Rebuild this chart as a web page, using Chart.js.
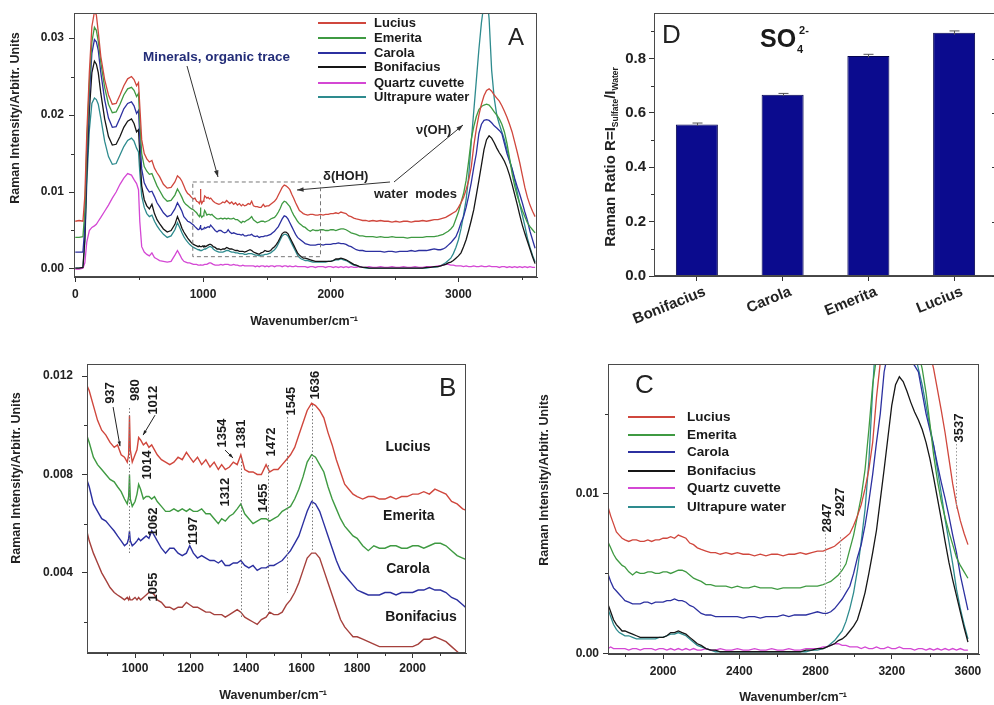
<!DOCTYPE html>
<html><head><meta charset="utf-8">
<script src="https://cdn.jsdelivr.net/npm/chart.js@4.4.0/dist/chart.umd.min.js"></script>
<style>
html,body{margin:0;padding:0;background:#fff;overflow:hidden;width:994px;height:705px;position:relative}
canvas{position:absolute;left:0;top:0}
</style></head><body>
<canvas id="cA" width="994" height="705"></canvas>
<canvas id="cB" width="994" height="705"></canvas>
<canvas id="cC" width="994" height="705"></canvas>
<canvas id="cD" width="1010" height="705"></canvas>
<script>
// ---------------- DATA ----------------
const wavenumbers = [
 0,30,60,75,90,110,130,150,165,180,
 200,230,260,290,320,350,380,410,440,460,
 480,495,505,520,540,560,580,600,620,640,
 660,690,720,750,780,800,820,
 835,850,865,880,895,910,925,937,950,962,
 972,977,980,983,990,1000,1007,1013,1020,1030,
 1040,1050,1060,1070,1080,1095,1110,1125,1140,1155,
 1170,1185,1197,1210,1225,1240,1255,1270,1285,1300,
 1312,1325,1340,1354,1368,1381,1395,1410,1425,1440,
 1455,1472,1485,1500,1515,1530,1545,1560,1575,1590,
 1605,1620,1636,1650,1665,1680,1695,1710,1725,1740,
 1755,1770,1785,1800,1820,1840,1860,1880,1900,1920,
 1940,1960,1980,2000,2020,2040,2060,2080,2100,2120,
 2140,2160,2180,2200,2225,2250,2275,2300,2330,2360,
 2390,2420,2450,2480,2510,2540,2570,2600,2630,2660,
 2690,2720,2750,2780,2810,2840,2860,2880,2900,2920,
 2940,2960,2980,3000,3020,3040,3060,3080,3100,3120,
 3140,3160,3180,3200,3220,3240,3260,3280,3300,3320,
 3340,3360,3380,3400,3420,3440,3460,3480,3500,3520,
 3540,3560,3580,3600
];
// Raman intensities in units of 1e-4 (arbitrary units)
const lucius = [
 62,63,62,95,175,255,315,334,330,308,
 276,246,226,214,215,226,238,247,250,246,
 238,242,212,168,150,143,139,141,131,125,
 120,110,105,106,113,121,118,
 114,108,102,98,96,93,91,92,88,87,
 85,88,104,90,85,88,90,95,94,92,
 93,91,92,90,88,86,85,84,85,87,
 86,89,87,85,87,84,86,83,85,82,
 84,82,83,85,84,88,82,81,81,80,
 80,84,81,82,82,84,86,88,91,96,
 101,106,109,108,106,103,97,92,86,81,
 76,74,72,71,70,71,71,70,70,71,
 70,71,71,72,72,73,72,74,73,72,
 69,68,66,65,64,63,63,62,63,62,
 63,62,62,61,62,61,62,62,61,62,
 62,63,62,63,64,64,65,66,67,69,
 71,73,75,80,86,93,103,115,132,160,
 182,200,214,225,232,234,231,226,222,218,
 212,205,197,188,178,165,152,138,122,106,
 93,83,75,68
];
const emerita = [
 41,41,42,75,160,240,295,314,310,296,
 268,236,214,203,204,214,226,234,236,232,
 224,228,192,150,133,127,123,124,116,108,
 102,93,88,89,96,104,98,
 93,87,84,82,80,78,77,75,73,70,
 68,71,80,70,67,69,72,76,74,70,
 71,71,70,71,69,67,65,65,66,65,
 66,65,66,65,65,66,64,64,62,60,
 62,61,63,64,66,68,64,62,60,61,
 62,62,61,62,63,65,66,67,70,74,
 79,85,88,87,84,81,75,70,66,62,
 59,57,55,54,51,49,51,50,50,51,
 51,50,50,51,51,50,51,52,52,51,
 49,47,46,45,43,43,42,42,42,41,
 42,41,41,42,41,41,41,40,41,41,
 41,41,42,42,42,43,44,45,47,49,
 52,56,65,74,86,98,115,140,168,185,
 198,207,211,213,214,213,209,204,200,195,
 188,178,163,144,124,108,95,85,76,68,
 60,55,51,47
];
const carola = [
 22,22,22,55,140,225,280,298,295,284,
 255,220,196,184,185,196,208,215,217,212,
 202,206,172,130,112,105,100,101,94,86,
 81,73,68,70,78,86,80,
 75,68,65,62,61,59,57,55,53,51,
 52,54,57,53,51,52,53,54,53,54,
 55,54,57,55,53,50,48,50,50,48,
 47,48,51,48,46,47,46,45,45,44,
 45,43,43,44,44,45,43,42,43,41,
 42,42,43,43,44,45,47,49,52,55,
 60,65,69,68,65,60,55,50,45,41,
 39,37,35,33,32,31,31,31,32,32,
 31,32,32,32,33,33,34,33,33,32,
 30,29,27,25,24,24,23,23,23,23,
 23,22,23,23,22,23,23,23,24,23,
 24,24,24,25,26,25,25,26,28,31,
 34,38,42,50,60,68,80,95,112,132,
 150,176,188,193,194,193,190,186,183,180,
 176,163,150,140,130,118,107,97,86,74,
 63,49,38,27
];
const bonifacius = [
 1,1,2,40,125,205,255,270,266,255,
 228,195,172,161,162,172,184,192,195,189,
 178,181,150,108,90,82,78,84,72,64,
 59,52,48,50,58,68,60,
 53,48,44,40,37,34,32,31,30,29,
 30,29,30,29,29,30,29,30,29,30,
 31,32,32,31,29,28,26,26,25,26,
 26,28,27,26,26,25,24,24,23,23,
 23,22,23,24,25,24,22,21,20,19,
 21,22,24,23,23,24,27,29,32,36,
 41,46,48,48,46,41,36,31,26,21,
 18,16,14,14,13,12,11,10,10,10,
 10,10,10,10,11,13,13,14,13,12,
 10,8,6,5,3,2,2,1,1,1,
 1,1,1,1,1,1,1,1,1,1,
 1,1,2,2,3,3,4,5,6,8,
 9,11,14,17,21,29,38,50,63,77,
 96,115,135,155,168,173,170,164,157,151,
 146,140,132,122,110,97,84,70,57,46,
 36,26,16,7
];
const quartz = [
 0,0,1,8,35,50,54,56,58,62,
 67,75,83,92,100,110,118,124,122,116,
 111,103,62,29,22,19,17,21,15,13,
 11,10,9,10,18,24,18,
 13,10,9,8,8,7,6,6,6,5,
 5,5,6,5,5,5,5,6,6,6,
 7,8,8,7,6,5,5,5,6,5,
 6,6,6,5,5,6,5,5,4,4,
 5,4,4,4,4,4,4,3,4,3,
 4,4,3,4,3,4,4,3,4,4,
 4,3,4,4,3,4,3,3,4,3,
 3,3,3,3,2,3,3,2,3,3,
 3,2,3,3,2,3,2,3,2,3,
 2,3,2,2,3,2,2,3,2,2,
 3,2,2,3,2,2,3,2,2,3,
 2,2,3,3,3,4,4,5,6,6,
 5,5,4,4,4,3,4,3,3,4,
 3,3,4,3,3,4,3,3,3,2,
 3,3,2,3,2,3,2,3,2,3,
 2,3,2,2
];
const water = [
 1,1,2,35,110,180,215,222,220,214,
 196,166,146,136,137,148,159,167,170,166,
 157,152,126,95,80,72,68,70,62,56,
 51,45,41,43,51,60,53,
 47,42,38,35,32,30,28,27,26,25,
 25,24,25,24,24,25,25,26,26,27,
 28,29,29,28,26,24,23,22,22,22,
 23,24,24,23,22,22,21,21,20,20,
 20,19,19,20,20,20,19,18,18,17,
 18,18,19,19,20,21,23,25,28,33,
 38,43,45,45,43,38,33,28,23,18,
 15,13,12,11,11,10,9,9,9,9,
 9,9,10,10,11,12,12,13,12,11,
 9,7,5,4,3,2,1,1,1,1,
 1,1,1,1,1,1,1,1,1,1,
 1,1,1,2,2,3,4,6,8,11,
 14,20,28,38,52,70,90,120,165,205,
 245,285,320,345,360,325,258,222,200,188,
 178,168,155,142,130,115,100,84,70,56,
 40,28,18,9
];
const seriesNames = ['Lucius','Emerita','Carola','Bonifacius','Quartz cuvette','Ultrapure water'];
const barCategories = ['Bonifacius','Carola','Emerita','Lucius'];
const ratioValues = [0.558, 0.667, 0.810, 0.895];
const ratioErrors = [0.005, 0.005, 0.006, 0.007];

const xTicksA = [0,1000,2000,3000], xMinorA = [500,1500,2500,3500];
const yTicksA = [0,0.01,0.02,0.03], yLabelsA = ['0.00','0.01','0.02','0.03'], yMinorA = [0.005,0.015,0.025];
const xTicksB = [1000,1200,1400,1600,1800,2000], xMinorB = [900,1100,1300,1500,1700,1900,2100];
const yTicksB = [0.004,0.008,0.012], yLabelsB = ['0.004','0.008','0.012'], yMinorB = [0.002,0.006,0.010];
const xTicksC = [2000,2400,2800,3200,3600], xMinorC = [1800,2200,2600,3000,3400];
const yTicksC = [0,0.01], yLabelsC = ['0.00','0.01'], yMinorC = [0.005,0.015];
const yTicksD = [0,0.2,0.4,0.6,0.8], yLabelsD = ['0.0','0.2','0.4','0.6','0.8'], yMinorD = [0.1,0.3,0.5,0.7,0.9];

// ---------------- STYLE / HELPERS ----------------
const FAM = '"Liberation Sans", Arial, Helvetica, sans-serif';
Chart.defaults.font.family = FAM;
Chart.defaults.font.weight = 'bold';
Chart.defaults.color = '#222';
const seriesColors = ['#d0473d','#3f9a42','#2c30a0','#161616','#d447d4','#2e8b8e'];
const bonifaciusB = '#a5403c';
const allSeries = [lucius, emerita, carola, bonifacius, quartz, water];
allSeries.forEach((s,k)=>{ if (s.length !== wavenumbers.length) throw new Error('length mismatch '+seriesNames[k]+' '+s.length+' vs '+wavenumbers.length); });
function pts(arr){ return wavenumbers.map((x,i)=>({x:x, y:arr[i]*1e-4})); }

function linAxis(min,max,ticks,labels,pad,fit){
  return {
    type:'linear', min:min, max:max, bounds:'data',
    afterBuildTicks: s => { s.ticks = ticks.map(v=>({value:v})); },
    afterFit: fit,
    ticks:{ callback:(v,i)=> labels ? labels[i] : String(ticks[i]), autoSkip:false, maxRotation:0, minRotation:0, padding:pad, font:{size:12, weight:'bold'}, color:'#222' },
    grid:{ drawOnChartArea:false, drawTicks:true, tickLength:5, tickColor:'#333', tickWidth:1 },
    border:{ display:true, color:'#444', width:1 }
  };
}
function frame(ch){ const a=ch.chartArea, c=ch.ctx; c.save(); c.strokeStyle='#4a4a4a'; c.lineWidth=1;
  c.strokeRect(Math.round(a.left)+0.5, Math.round(a.top)+0.5, Math.round(a.right-a.left)-1, Math.round(a.bottom-a.top)-1); c.restore(); }
function minor(ch,xs,ys,len){ const c=ch.ctx,a=ch.chartArea; c.save(); c.strokeStyle='#333'; c.lineWidth=1; c.beginPath();
  xs.forEach(v=>{ const p=Math.round(ch.scales.x.getPixelForValue(v))+0.5; c.moveTo(p,a.bottom); c.lineTo(p,a.bottom+len); });
  ys.forEach(v=>{ const p=Math.round(ch.scales.y.getPixelForValue(v))+0.5; c.moveTo(a.left,p); c.lineTo(a.left-len,p); });
  c.stroke(); c.restore(); }
function text(c,t,x,y,font,color,align,base,rot){ c.save(); c.translate(x,y); if(rot) c.rotate(rot); c.font=font+' '+FAM; c.fillStyle=color||'#222';
  c.textAlign=align||'left'; c.textBaseline=base||'alphabetic'; c.fillText(t,0,0); c.restore(); }
function arrow(c,x1,y1,x2,y2,head){ head=head||7; c.beginPath(); c.moveTo(x1,y1); c.lineTo(x2,y2); c.stroke();
  const ang=Math.atan2(y2-y1,x2-x1); c.beginPath(); c.moveTo(x2,y2);
  c.lineTo(x2-head*Math.cos(ang-0.33), y2-head*Math.sin(ang-0.33)); c.lineTo(x2-head*Math.cos(ang+0.33), y2-head*Math.sin(ang+0.33)); c.closePath(); c.fill(); }
function legend(c,x1,x2,tx,rows,size){ seriesNames.forEach((n,k)=>{ c.save(); c.strokeStyle=seriesColors[k]; c.lineWidth=2; c.beginPath(); c.moveTo(x1,rows[k]); c.lineTo(x2,rows[k]); c.stroke(); c.restore();
  text(c,n,tx,rows[k],'bold '+size+'px','#1a1a1a','left','middle'); }); }
function baseOpts(pad, xs, ys){ return { responsive:false, animation:false, devicePixelRatio:1, events:[], layout:{padding:pad},
  plugins:{legend:{display:false}, tooltip:{enabled:false}}, scales:{x:xs, y:ys} }; }
function lineDs(arr,color,w){ return { data:pts(arr), borderColor:color, borderWidth:w||1.3, pointRadius:0, tension:0, fill:false }; }

// ---------------- PANEL A ----------------
new Chart(document.getElementById('cA'), {
  type:'line',
  data:{ datasets: allSeries.map((s,k)=> lineDs(s, seriesColors[k], 1.3)) },
  options: baseOpts({left:34, right:457, top:13, bottom:398},
    linAxis(-10,3615,xTicksA,null,5,s=>{s.height=30;}),
    linAxis(-0.00104,0.03325,yTicksA,yLabelsA,5,s=>{s.width=40;})),
  plugins:[{ id:'decorA', afterDraw(ch){
    const c=ch.ctx, X=v=>ch.scales.x.getPixelForValue(v), Y=v=>ch.scales.y.getPixelForValue(v);
    frame(ch); minor(ch,xMinorA,yMinorA,3);
    text(c,'Raman Intensity/Arbitr. Units',16,118,'bold 12.5px','#222','center','middle',-Math.PI/2);
    text(c,'Wavenumber/cm⁻¹',304,322,'bold 12.5px','#222','center','middle');
    legend(c,318,366,374,[23,38,53,67,83,97],13);
    text(c,'A',508,45,'24px','#222','left','alphabetic');
    text(c,'Minerals, organic trace',143,61,'bold 13.5px','#232d78','left','alphabetic');
    c.save(); c.strokeStyle='#333'; c.fillStyle='#333'; c.lineWidth=1;
    arrow(c,187,66,218,177,7);
    arrow(c,390,182,297,190,7);
    arrow(c,394,182,463,125,7);
    c.setLineDash([4,3]); c.strokeStyle='#777';
    const bx1=X(920), bx2=X(1920), by1=Y(0.0113), by2=Y(0.0016);
    c.strokeRect(bx1,by1,bx2-bx1,by2-by1); c.restore();
    text(c,'δ(HOH)',323,180,'bold 13px','#222','left','alphabetic');
    text(c,'water  modes',374,198,'bold 13px','#222','left','alphabetic');
    text(c,'ν(OH)',416,134,'bold 13px','#222','left','alphabetic');
  }}]
});

// ---------------- PANEL B ----------------
const bSeries = [lucius, emerita, carola, bonifacius];
const bColors = [seriesColors[0], seriesColors[1], seriesColors[2], bonifaciusB];
new Chart(document.getElementById('cB'), {
  type:'line',
  data:{ datasets: bSeries.map((s,k)=> lineDs(s, bColors[k], 1.4)) },
  options: baseOpts({left:37, right:528, top:364, bottom:22},
    linAxis(827,2192,xTicksB,null,3,s=>{s.height=30;}),
    linAxis(0.00074,0.01249,yTicksB,yLabelsB,9,s=>{s.width=50;})),
  plugins:[{ id:'decorB', afterDraw(ch){
    const c=ch.ctx, X=v=>ch.scales.x.getPixelForValue(v), Y=v=>ch.scales.y.getPixelForValue(v);
    frame(ch); minor(ch,xMinorB,yMinorB,3);
    text(c,'Raman Intensity/Arbitr. Units',17,478,'bold 12.5px','#222','center','middle',-Math.PI/2);
    text(c,'Wavenumber/cm⁻¹',273,696,'bold 12.5px','#222','center','middle');
    text(c,'B',439,396,'26px','#222','left','alphabetic');
    c.save(); c.strokeStyle='#777'; c.lineWidth=1; c.setLineDash([1.5,2]);
    [[980,0.0107,0.0048],[1381,0.00867,0.0022],[1480,0.00838,0.00237],[1547,0.01033,0.00318],[1636,0.01082,0.00493]].forEach(d=>{
      const x=Math.round(X(d[0]))+0.5; c.beginPath(); c.moveTo(x,Y(d[1])); c.lineTo(x,Y(d[2])); c.stroke(); });
    c.restore();
    [['937',910,0.01131],['980',1000,0.01143],['1012',1065,0.01102],['1014',1043,0.00838],['1354',1313,0.00968],
     ['1381',1382,0.00964],['1312',1324,0.00728],['1472',1493,0.00932],['1455',1461,0.00704],['1545',1562,0.01098],
     ['1636',1648,0.01163],['1062',1068,0.00607],['1197',1209,0.0057],['1055',1065,0.00342]].forEach(d=>{
      text(c,d[0],X(d[1]),Y(d[2]),'bold 13px','#1a1a1a','center','middle',-Math.PI/2); });
    c.save(); c.strokeStyle='#222'; c.fillStyle='#222'; c.lineWidth=1;
    arrow(c,X(921),Y(0.01074),X(946),Y(0.00915),5);
    arrow(c,X(1072),Y(0.01041),X(1029),Y(0.0096),5);
    arrow(c,X(1324),Y(0.00899),X(1353),Y(0.00867),5);
    c.restore();
    [['Lucius',1983,0.00911],['Emerita',1986,0.00631],['Carola',1983,0.00415],['Bonifacius',2030,0.0022]].forEach(d=>{
      text(c,d[0],X(d[1]),Y(d[2]),'bold 14px','#1a1a1a','center','middle'); });
  }}]
});

// ---------------- PANEL C ----------------
new Chart(document.getElementById('cC'), {
  type:'line',
  data:{ datasets: allSeries.map((s,k)=> lineDs(s, seriesColors[k], 1.3)) },
  options: baseOpts({left:568, right:15, top:364, bottom:21},
    linAxis(1711,3658,xTicksC,null,5,s=>{s.height=30;}),
    linAxis(-0.00004,0.0181,yTicksC,yLabelsC,4,s=>{s.width=40;})),
  plugins:[{ id:'decorC', afterDraw(ch){
    const c=ch.ctx, X=v=>ch.scales.x.getPixelForValue(v), Y=v=>ch.scales.y.getPixelForValue(v);
    frame(ch); minor(ch,xMinorC,yMinorC,3);
    text(c,'Raman Intensity/Arbitr. Units',545,480,'bold 12.5px','#222','center','middle',-Math.PI/2);
    text(c,'Wavenumber/cm⁻¹',793,698,'bold 12.5px','#222','center','middle');
    text(c,'C',635,393,'26px','#222','left','alphabetic');
    legend(c,628,675,687,[417,435,452,471,488,507],13.5);
    c.save(); c.strokeStyle='#999'; c.lineWidth=1; c.setLineDash([1.5,2]);
    [[2850,0.0077,0.00226],[2927,0.00727,0.00396],[3537,0.01331,0.00894]].forEach(d=>{
      const x=Math.round(X(d[0]))+0.5; c.beginPath(); c.moveTo(x,Y(d[1])); c.lineTo(x,Y(d[2])); c.stroke(); });
    c.restore();
    [['2847',2860,0.00846],['2927',2933,0.00946],['3537',3557,0.0141]].forEach(d=>{
      text(c,d[0],X(d[1]),Y(d[2]),'bold 13px','#1a1a1a','center','middle',-Math.PI/2); });
  }}]
});

// ---------------- PANEL D ----------------
new Chart(document.getElementById('cD'), {
  type:'bar',
  data:{ labels:barCategories, datasets:[{ data:ratioValues, backgroundColor:'#0b0b8e', borderColor:'#05054f', borderWidth:1, barPercentage:0.49, categoryPercentage:1.0 }] },
  options: baseOpts({left:614, right:13, top:13, bottom:369},
    { type:'category', offset:true, afterFit:s=>{s.height=60;},
      grid:{ offset:false, drawOnChartArea:false, drawTicks:true, tickLength:5, tickColor:'#333' },
      border:{ display:true, color:'#444', width:1 },
      ticks:{ font:{size:15, weight:'bold'}, color:'#222', minRotation:22, maxRotation:22, padding:2, labelOffset:8, autoSkip:false } },
    Object.assign(linAxis(0,0.968,yTicksD,yLabelsD,3,s=>{s.width=40;}), {ticks:{ callback:(v,i)=>yLabelsD[i], autoSkip:false, padding:3, font:{size:15, weight:'bold'}, color:'#222' }})),
  plugins:[{ id:'decorD', afterDraw(ch){
    const c=ch.ctx, a=ch.chartArea, Y=v=>ch.scales.y.getPixelForValue(v);
    frame(ch);
    c.save(); c.strokeStyle='#333'; c.lineWidth=1; c.beginPath();
    yMinorD.forEach(v=>{ const p=Math.round(Y(v))+0.5; c.moveTo(a.left,p); c.lineTo(a.left-3,p); c.moveTo(a.right,p); c.lineTo(a.right-3,p); });
    yTicksD.forEach(v=>{ const p=Math.round(Y(v))+0.5; c.moveTo(a.right,p); c.lineTo(a.right-5,p); });
    c.stroke();
    const meta=ch.getDatasetMeta(0);
    c.strokeStyle='#555'; c.lineWidth=1;
    meta.data.forEach((b,i)=>{ const x=Math.round(b.x)+0.5, y1=Y(ratioValues[i]+ratioErrors[i]), y2=Y(ratioValues[i]-ratioErrors[i]);
      c.beginPath(); c.moveTo(x,y1); c.lineTo(x,y2); c.moveTo(x-5,y1); c.lineTo(x+5,y1); c.stroke(); });
    c.restore();
    text(c,'D',662,43,'26px','#222','left','alphabetic');
    c.save(); c.font='bold 25px '+FAM; const soW=c.measureText('SO').width; c.restore();
    text(c,'SO',760,47,'bold 25px','#1a1a1a','left','alphabetic');
    text(c,'4',761+soW,53,'bold 11px','#1a1a1a','left','alphabetic');
    text(c,'2-',763+soW,34,'bold 11px','#1a1a1a','left','alphabetic');
    c.save(); c.translate(611,157); c.rotate(-Math.PI/2);
    const parts=[['Raman Ratio R=I','bold 15px',0],['Sulfate','bold 8.5px',5],['/I','bold 15px',0],['Water','bold 8.5px',5]];
    let tot=0; parts.forEach(p=>{ c.font=p[1]+' '+FAM; tot+=c.measureText(p[0]).width; });
    let x=-tot/2; c.textBaseline='middle'; c.fillStyle='#222';
    parts.forEach(p=>{ c.font=p[1]+' '+FAM; c.fillText(p[0],x,p[2]); x+=c.measureText(p[0]).width; });
    c.restore();
  }}]
});
</script>
</body></html>
